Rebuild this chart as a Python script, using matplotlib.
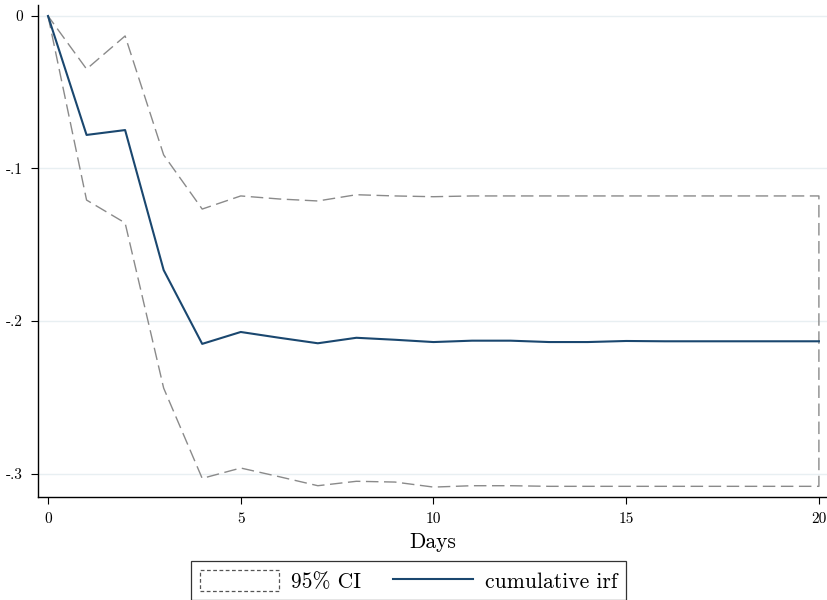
import numpy as np
import matplotlib
matplotlib.use("Agg")
import matplotlib.pyplot as plt
from matplotlib.patches import Patch
from matplotlib.lines import Line2D

days = list(range(21))
irf = [0, -0.0780, -0.0748, -0.1666, -0.2150, -0.2072, -0.2110, -0.2146, -0.2110,
       -0.2123, -0.2138, -0.2129, -0.2129, -0.2138, -0.2138, -0.2131, -0.2133,
       -0.2133, -0.2133, -0.2133, -0.2133]
upper = [0, -0.0348, -0.0131, -0.0911, -0.1266, -0.1180, -0.1200, -0.1213, -0.1172,
         -0.1180, -0.1185, -0.1180, -0.1180, -0.1180, -0.1180, -0.1180, -0.1180,
         -0.1180, -0.1180, -0.1180, -0.1180]
lower = [0, -0.1207, -0.1357, -0.2440, -0.3032, -0.2964, -0.3021, -0.3080, -0.3051,
         -0.3056, -0.3089, -0.3080, -0.3080, -0.3084, -0.3084, -0.3084, -0.3084,
         -0.3084, -0.3084, -0.3084, -0.3084]
xticks = [0, 5, 10, 15, 20]
yticks = [0, -0.1, -0.2, -0.3]
yticklabels = ["0", "-.1", "-.2", "-.3"]

FONT = "cmr10"
navy = "#1a476f"
gray = "#8a8a8a"

fig = plt.figure(figsize=(8.27, 6.0), dpi=100)
ax = fig.add_axes([38/827, 1-497/600, 789/827, 492/600])

for y in yticks:
    ax.axhline(y, color="#e8eff2", lw=1.0, zorder=0)

ax.fill_between(days, lower, upper, facecolor="none", edgecolor=gray,
                linestyle=(0, (9, 4)), lw=1.0, zorder=2)
ax.plot(days, irf, color=navy, lw=1.5, zorder=3)

ax.set_xlim(-0.26, 20.21)
ax.set_ylim(-0.3154, 0.0072)
ax.set_xticks(xticks)
ax.set_xticklabels([str(t) for t in xticks], fontfamily=FONT, fontsize=11)
ax.set_yticks(yticks)
ax.set_yticklabels(yticklabels, fontfamily=FONT, fontsize=11)
ax.tick_params(direction="out", length=5, width=0.8, color="black", pad=6)
for s in ["top", "right"]:
    ax.spines[s].set_visible(False)
for s in ["left", "bottom"]:
    ax.spines[s].set_linewidth(1.0)
ax.set_xlabel("Days", fontfamily=FONT, fontsize=15.5, labelpad=5)

handles = [Patch(facecolor="white", edgecolor="#555555", linestyle=(0, (3, 2)), lw=0.9),
           Line2D([0], [0], color=navy, lw=1.5)]
leg = fig.legend(handles, ["95% CI", "cumulative irf"], loc="upper center",
                 bbox_to_anchor=(408.5/827, 1-561/600), ncol=2, frameon=True,
                 fancybox=False, edgecolor="black", handlelength=3.7,
                 handleheight=1.16, columnspacing=1.5, handletextpad=0.55,
                 borderpad=0.4, borderaxespad=0.0, prop={"family": FONT, "size": 15.5})
leg.get_frame().set_linewidth(0.9)

fig.savefig("out.png", dpi=100)
